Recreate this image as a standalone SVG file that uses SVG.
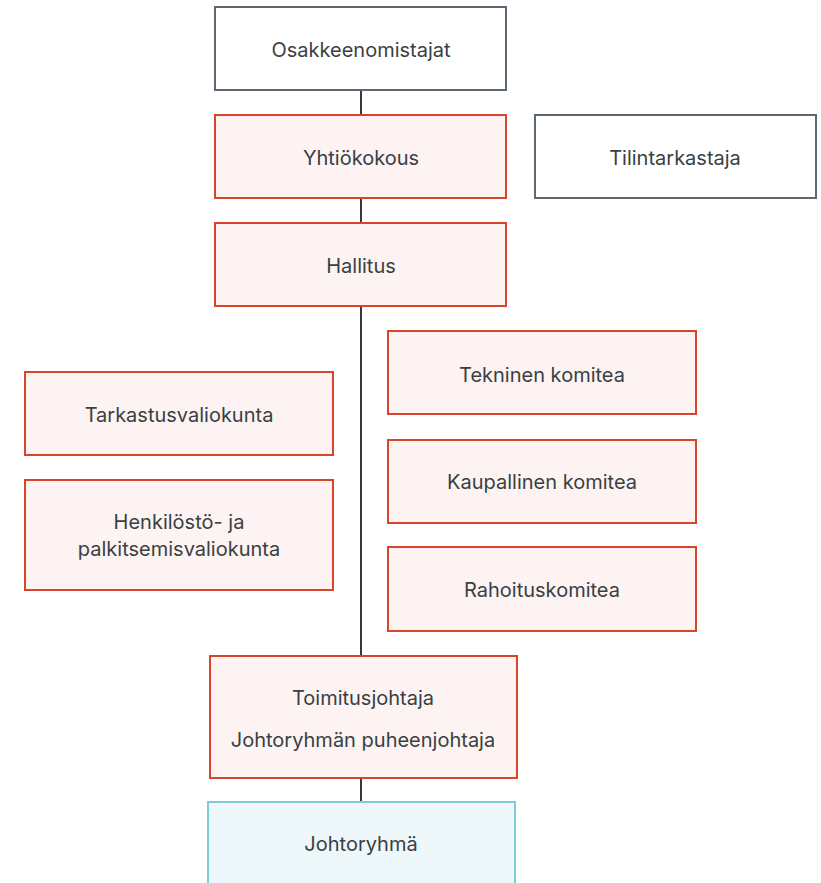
<svg xmlns="http://www.w3.org/2000/svg" width="821" height="883" viewBox="0 0 821 883">
<style>
.t{font-family:Inter,"Noto Sans","Liberation Sans",sans-serif;font-size:20px;fill:#3a3f44;text-anchor:middle;dominant-baseline:central}
.g{fill:#ffffff;stroke:#5d6872;stroke-width:2}
.r{fill:#fcf3f2;stroke:#d9452a;stroke-width:2}
.c{fill:#eef7fa;stroke:#7fcbd9;stroke-width:2}
.ln{stroke:#333a3f;stroke-width:2;fill:none}
</style>
<rect width="821" height="883" fill="#ffffff"/>
<g id="connectors">
<line class="ln" x1="361" y1="90" x2="361" y2="802"/>
</g>
<g id="osakkeenomistajat"><rect class="g" x="215" y="7" width="291" height="83"/><text class="t" x="361" y="50">Osakkeenomistajat</text></g>
<g id="yhtiokokous"><rect class="r" x="215" y="115" width="291" height="83"/><text class="t" x="361" y="158">Yhtiökokous</text></g>
<g id="tilintarkastaja"><rect class="g" x="535" y="115" width="281" height="83"/><text class="t" x="675" y="158">Tilintarkastaja</text></g>
<g id="hallitus"><rect class="r" x="215" y="223" width="291" height="83"/><text class="t" x="361" y="266">Hallitus</text></g>
<g id="tekninen"><rect class="r" x="388" y="331" width="308" height="83"/><text class="t" x="542" y="375">Tekninen komitea</text></g>
<g id="tarkastusvaliokunta"><rect class="r" x="25" y="372" width="308" height="83"/><text class="t" x="179" y="415">Tarkastusvaliokunta</text></g>
<g id="kaupallinen"><rect class="r" x="388" y="440" width="308" height="83"/><text class="t" x="542" y="482">Kaupallinen komitea</text></g>
<g id="henkilosto"><rect class="r" x="25" y="480" width="308" height="110"/><text class="t" x="179" y="522">Henkilöstö- ja</text><text class="t" x="179" y="549">palkitsemisvaliokunta</text></g>
<g id="rahoitus"><rect class="r" x="388" y="547" width="308" height="84"/><text class="t" x="542" y="590">Rahoituskomitea</text></g>
<g id="toimitusjohtaja"><rect class="r" x="210" y="656" width="307" height="122"/><text class="t" x="363" y="698">Toimitusjohtaja</text><text class="t" x="363" y="740">Johtoryhmän puheenjohtaja</text></g>
<g id="johtoryhma"><rect class="c" x="208" y="802" width="307" height="100"/><text class="t" x="361" y="844">Johtoryhmä</text></g>
</svg>
